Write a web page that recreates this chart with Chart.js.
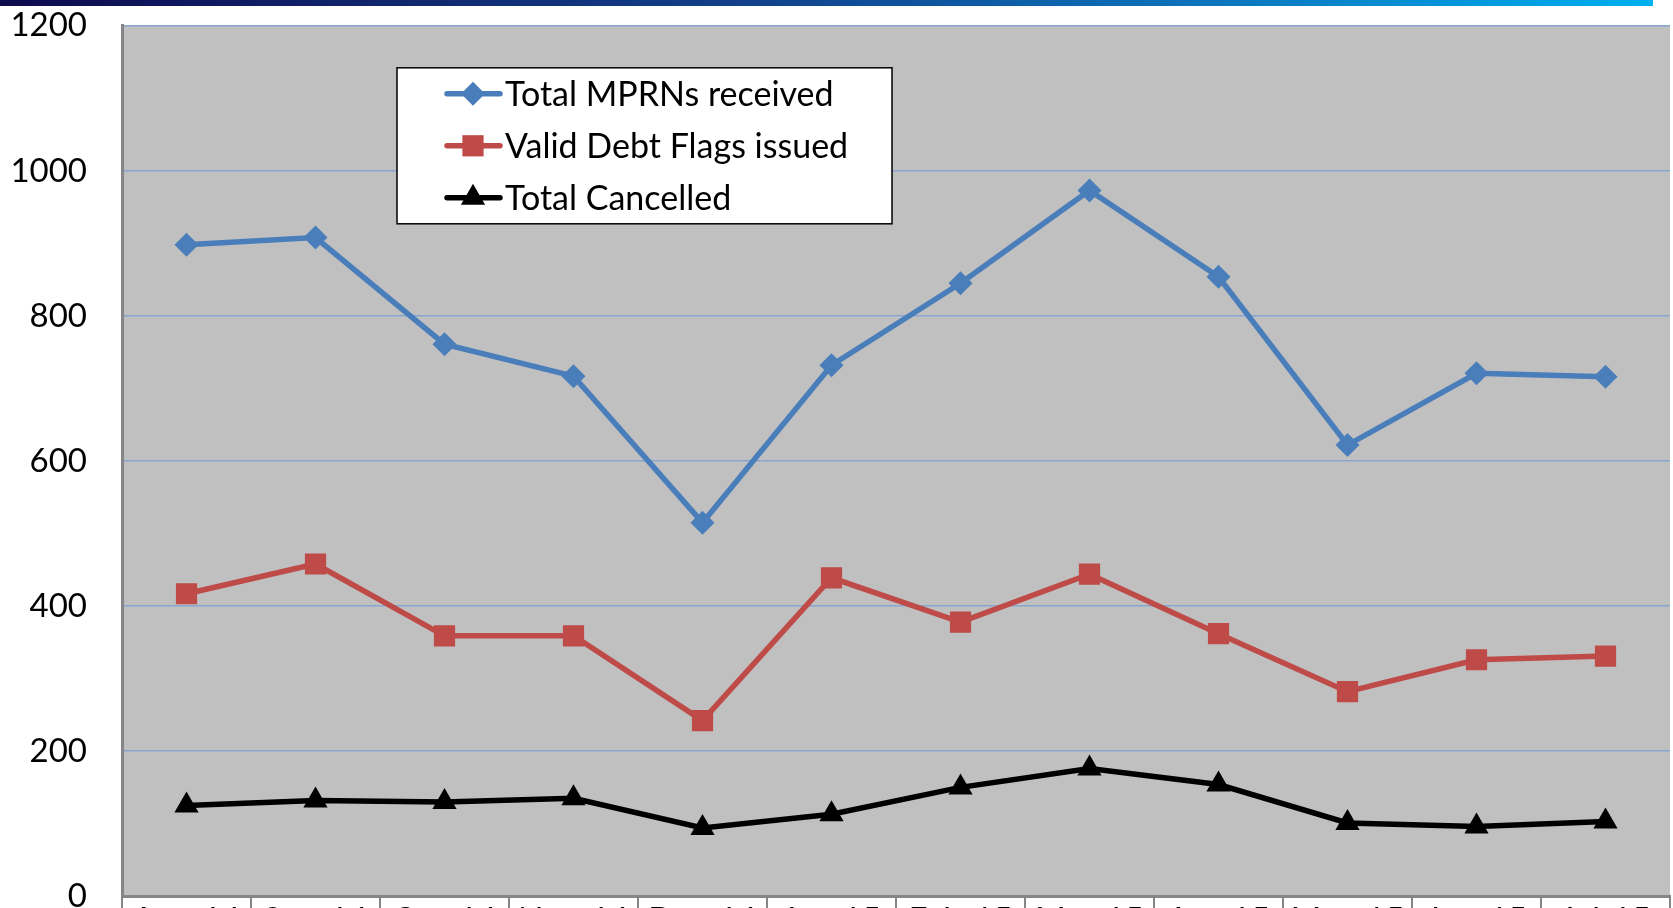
<!DOCTYPE html>
<html>
<head>
<meta charset="utf-8">
<script src="https://cdn.jsdelivr.net/npm/chart.js@4/dist/chart.umd.min.js"></script>
<style>
  html, body { margin: 0; padding: 0; background: #fff; overflow: hidden; }
  #wrap { position: relative; width: 1673px; height: 908px; overflow: hidden; }
  #box { position: absolute; left: 0; top: -29px; width: 1685px; height: 980px; }
  /* bandeau dégradé en haut de la diapo */
  #band { position: absolute; left: 0; top: 0; width: 1653px; height: 6px;
          background: linear-gradient(to right, #0e0a4e 0%, #12408a 45%, #0a78c0 75%, #00b0f0 100%); z-index: 2; }
</style>
</head>
<body>
<div id="wrap">
  <div id="band"></div>
  <div id="box"><canvas id="chart"></canvas></div>
</div>
<script>
// Données
const months = ['Aug-14', 'Sep-14', 'Oct-14', 'Nov-14', 'Dec-14', 'Jan-15',
                'Feb-15', 'Mar-15', 'Apr-15', 'May-15', 'Jun-15', 'Jul-15'];
const mprnsReceived   = [898, 908, 761, 717, 515, 732, 845, 973, 854, 622, 721, 716];
const debtFlagsIssued = [417, 458, 359, 359, 242, 439, 378, 444, 362, 282, 326, 331];
const totalCancelled  = [125, 132, 130, 135, 94, 113, 150, 176, 154, 101, 96, 103];
const yTicks = [0, 200, 400, 600, 800, 1000, 1200];

const FONT = 'Lato, "Open Sans", sans-serif';

// fond gris de la zone de tracé
const plotBg = {
  id: 'plotBg',
  beforeDraw(chart) {
    const { ctx, chartArea: a } = chart;
    ctx.save();
    ctx.fillStyle = '#c0c0c0';
    ctx.fillRect(a.left, a.top, a.right - a.left, a.bottom - a.top);
    ctx.restore();
  }
};

// légende encadrée dans la zone de tracé (coordonnées relatives au haut de la zone)
const boxLegend = {
  id: 'boxLegend',
  afterDraw(chart) {
    const ctx = chart.ctx;
    const top = chart.chartArea.top;
    const x = 397, y = top + 42, w = 495, h = 156;
    ctx.save();
    ctx.fillStyle = '#fff';
    ctx.fillRect(x, y, w, h);
    ctx.strokeStyle = '#000';
    ctx.lineWidth = 1.5;
    ctx.strokeRect(x, y, w, h);
    ctx.font = '34px ' + FONT;
    ctx.textBaseline = 'middle';
    chart.data.datasets.forEach((ds, i) => {
      const cy = top + 68 + i * 52;
      ctx.strokeStyle = ds.borderColor;
      ctx.lineWidth = ds.borderWidth;
      ctx.lineCap = 'round';
      ctx.beginPath();
      ctx.moveTo(447, cy);
      ctx.lineTo(500, cy);
      ctx.stroke();
      ctx.fillStyle = ds.pointBackgroundColor;
      Chart.helpers.drawPoint(ctx, {
        pointStyle: ds.pointStyle, radius: ds.pointRadius, rotation: 0, borderWidth: 0
      }, 473, cy);
      ctx.fillStyle = '#000';
      ctx.fillText(ds.label, 505, cy + 1);
    });
    ctx.restore();
  }
};

const ctx = document.getElementById('chart').getContext('2d');
new Chart(ctx, {
  type: 'line',
  data: {
    labels: months,
    datasets: [
      {
        label: 'Total MPRNs received',
        data: mprnsReceived,
        borderColor: '#4a7ebb',
        backgroundColor: '#4a7ebb',
        pointBackgroundColor: '#4a7ebb',
        pointBorderColor: '#4a7ebb',
        borderWidth: 5.5,
        pointStyle: 'rectRot',
        pointRadius: 12,
        pointBorderWidth: 0
      },
      {
        label: 'Valid Debt Flags issued',
        data: debtFlagsIssued,
        borderColor: '#be4b48',
        backgroundColor: '#be4b48',
        pointBackgroundColor: '#be4b48',
        pointBorderColor: '#be4b48',
        borderWidth: 5.5,
        pointStyle: 'rect',
        pointRadius: 15,
        pointBorderWidth: 0
      },
      {
        label: 'Total Cancelled',
        data: totalCancelled,
        borderColor: '#000000',
        backgroundColor: '#000000',
        pointBackgroundColor: '#000000',
        pointBorderColor: '#000000',
        borderWidth: 5.5,
        pointStyle: 'triangle',
        pointRadius: 14,
        pointBorderWidth: 0
      }
    ]
  },
  options: {
    responsive: true,
    maintainAspectRatio: false,
    animation: false,
    layout: { padding: { top: 0, right: 2, left: 0, bottom: 0 } },
    plugins: {
      legend: { display: false },
      tooltip: { enabled: false }
    },
    scales: {
      x: {
        offset: true,
        grid: {
          offset: true,
          drawOnChartArea: false,
          drawTicks: true,
          tickLength: 14,
          color: '#868686',
          lineWidth: 2
        },
        border: { display: true, color: '#868686', width: 3 },
        ticks: {
          color: '#000',
          font: { family: FONT, size: 33 },
          padding: -10,
          maxRotation: 0,
          autoSkip: false
        },
        afterFit(scale) { scale.height = 50; }
      },
      y: {
        min: 0,
        max: 1200,
        afterBuildTicks(scale) { scale.ticks = yTicks.map(v => ({ value: v })); },
        grid: {
          drawTicks: false,
          color: '#87a5cf',
          lineWidth: 1.5
        },
        border: { display: true, color: '#868686', width: 3 },
        ticks: {
          color: '#000',
          font: { family: FONT, size: 33 },
          padding: 35,
          callback: v => String(v)
        },
        afterFit(scale) { scale.width = 122; }
      }
    }
  },
  plugins: [plotBg, boxLegend]
});
</script>
</body>
</html>
